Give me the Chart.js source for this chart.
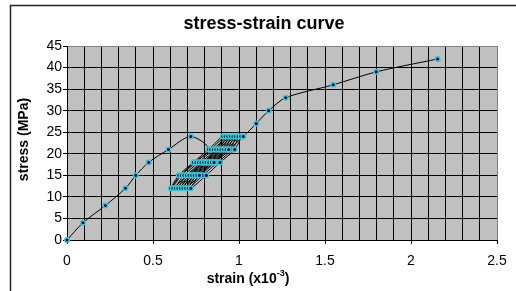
<!DOCTYPE html>
<html>
<head>
<meta charset="utf-8">
<script src="https://cdn.jsdelivr.net/npm/chart.js@4/dist/chart.umd.min.js"></script>
<style>
  html, body { margin: 0; padding: 0; background: #fff; }
</style>
</head>
<body>
<canvas id="chart" width="516" height="291"></canvas>
<script>
// strain (x10^-3) / stress (MPa), in test order
const loadStrain = [0, 0.093, 0.223, 0.34, 0.40, 0.475, 0.59, 0.72, 0.828, 0.74, 0.66, 0.603];
const loadStress = [0, 4, 8, 12, 15, 18, 21, 24, 21, 18, 15, 12];

// cyclic part: 12 -> 24 -> 12 MPa, ratcheting to the right
const cycleStrain = [
  0.65, 0.735, 0.822, 0.906, 0.87, 0.79, 0.70, 0.615,
  0.665, 0.75, 0.835, 0.92, 0.885, 0.80, 0.715, 0.63,
  0.68, 0.765, 0.85, 0.935, 0.90, 0.815, 0.73, 0.645,
  0.695, 0.78, 0.865, 0.95, 0.915, 0.83, 0.745, 0.66,
  0.71, 0.795, 0.88, 0.965, 0.93, 0.845, 0.76, 0.675,
  0.725, 0.81, 0.895, 0.98, 0.945, 0.86, 0.775, 0.69,
  0.74, 0.825, 0.91, 0.995, 0.96, 0.875, 0.79, 0.705,
  0.755, 0.84, 0.925, 1.01, 0.975, 0.89, 0.81, 0.72,
  0.77, 0.855, 0.94, 1.025
];
const cycleStress = [
  15, 18, 21, 24, 21, 18, 15, 12,
  15, 18, 21, 24, 21, 18, 15, 12,
  15, 18, 21, 24, 21, 18, 15, 12,
  15, 18, 21, 24, 21, 18, 15, 12,
  15, 18, 21, 24, 21, 18, 15, 12,
  15, 18, 21, 24, 21, 18, 15, 12,
  15, 18, 21, 24, 21, 18, 15, 12,
  15, 18, 21, 24, 21, 18, 15, 12,
  15, 18, 21, 24
];

const finalStrain = [1.10, 1.173, 1.272, 1.548, 1.798, 2.155];
const finalStress = [27, 30, 33, 36, 39, 42];

const strain = [...loadStrain, ...cycleStrain, ...finalStrain];
const stress = [...loadStress, ...cycleStress, ...finalStress];

const FONT = '"Liberation Sans", Arial, sans-serif';

// plot background, titles and the outer frame
const frame = {
  id: 'frame',
  beforeDraw(chart) {
    const { ctx, chartArea: a } = chart;
    ctx.save();
    ctx.fillStyle = '#C0C0C0';
    ctx.fillRect(a.left, a.top, a.right - a.left, a.bottom - a.top);
    ctx.restore();
  },
  afterDraw(chart) {
    const { ctx } = chart;
    ctx.save();
    ctx.fillStyle = '#000';

    // chart title
    ctx.font = 'bold 18px ' + FONT;
    ctx.textAlign = 'center';
    ctx.textBaseline = 'alphabetic';
    ctx.fillText('stress-strain curve', 264, 29);

    // x title with superscript
    const main = 'strain (x10', sup = '-3', tail = ')';
    ctx.font = 'bold 14px ' + FONT;
    const w1 = ctx.measureText(main).width, w3 = ctx.measureText(tail).width;
    ctx.font = 'bold 9px ' + FONT;
    const w2 = ctx.measureText(sup).width;
    let x = 248 - (w1 + w2 + w3) / 2;
    ctx.textAlign = 'left';
    ctx.font = 'bold 14px ' + FONT;
    ctx.fillText(main, x, 283);
    ctx.font = 'bold 9px ' + FONT;
    ctx.fillText(sup, x + w1, 276);
    ctx.font = 'bold 14px ' + FONT;
    ctx.fillText(tail, x + w1 + w2, 283);

    // y title
    ctx.translate(24, 139.5);
    ctx.rotate(-Math.PI / 2);
    ctx.textAlign = 'center';
    ctx.textBaseline = 'middle';
    ctx.fillText('stress (MPa)', 0, 0);
    ctx.setTransform(1, 0, 0, 1, 0, 0);

    // outer frame (top and left edges visible)
    ctx.strokeStyle = '#222';
    ctx.lineWidth = 1.5;
    ctx.beginPath();
    ctx.moveTo(10.5, 291);
    ctx.lineTo(10.5, 5.5);
    ctx.lineTo(516, 5.5);
    ctx.stroke();
    ctx.restore();
  }
};

const isMajor = v => Math.abs(v * 2 - Math.round(v * 2)) < 1e-6;

new Chart(document.getElementById('chart'), {
  type: 'scatter',
  data: {
    datasets: [{
      data: strain.map((s, i) => ({ x: s, y: stress[i] })),
      showLine: true,
      clip: false,
      borderColor: '#000',
      borderWidth: 1,
      tension: 0.3,
      pointStyle: 'circle',
      pointRadius: 2.3,
      pointBackgroundColor: '#000066',
      pointBorderColor: '#33CCCC',
      pointBorderWidth: 1.5
    }]
  },
  options: {
    responsive: false,
    animation: false,
    devicePixelRatio: 1,
    layout: { padding: { top: 46, right: 19, left: 0, bottom: 0 } },
    plugins: {
      legend: { display: false },
      tooltip: { enabled: false }
    },
    scales: {
      x: {
        type: 'linear',
        min: 0,
        max: 2.5,
        afterFit: s => { s.height = 51; },
        border: { color: '#000', width: 1 },
        grid: {
          color: c => (c.tick && c.tick.value >= 2.49 ? '#808080' : '#000'),
          tickColor: c => (c.tick && isMajor(c.tick.value) ? '#000' : 'rgba(0,0,0,0)'),
          tickLength: 4
        },
        ticks: {
          stepSize: 0.1,
          autoSkip: false,
          maxRotation: 0,
          padding: 9,
          color: '#000',
          font: { family: FONT, size: 14 },
          callback: v => (isMajor(v) ? String(Math.round(v * 10) / 10) : '')
        }
      },
      y: {
        min: 0,
        max: 45,
        afterFit: s => { s.width = 67; },
        border: { color: '#000', width: 1 },
        grid: {
          color: c => (c.tick && c.tick.value >= 45 ? '#808080' : '#000'),
          tickColor: '#000',
          tickLength: 4
        },
        ticks: {
          stepSize: 5,
          padding: 1,
          color: '#000',
          font: { family: FONT, size: 14 }
        }
      }
    }
  },
  plugins: [frame]
});
</script>
</body>
</html>
